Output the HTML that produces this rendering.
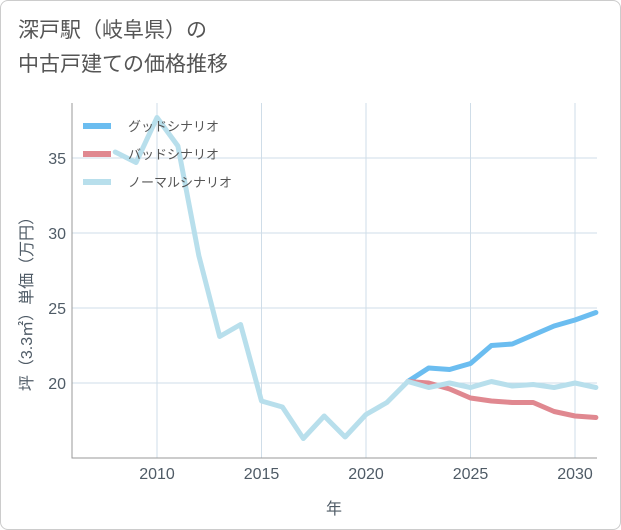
<!DOCTYPE html>
<html><head><meta charset="utf-8"><style>
body{margin:0;background:#fff;font-family:"Liberation Sans","Noto Sans CJK JP",sans-serif;}
.frame{position:absolute;left:0;top:0;width:619px;height:528px;border:1px solid #ccc;border-radius:8px;background:#fff;}
.title{position:absolute;left:18px;top:14px;font-size:21px;line-height:34px;color:#555;}
</style></head><body>
<div class="frame"></div>
<div class="title">深戸駅（岐阜県）の<br>中古戸建ての価格推移</div>
<svg id="chart" width="621" height="530" style="position:absolute;left:0;top:0"></svg>
<script>
const years=[2008,2009,2010,2011,2012,2013,2014,2015,2016,2017,2018,2019,2020,2021,2022,2023,2024,2025,2026,2027,2028,2029,2030,2031];
const normal=[35.4,34.7,37.7,35.8,28.5,23.1,23.9,18.8,18.4,16.3,17.8,16.4,17.9,18.7,20.1,19.7,20.0,19.7,20.1,19.8,19.9,19.7,20.0,19.7];
const fyears=[2022,2023,2024,2025,2026,2027,2028,2029,2030,2031];
const good=[20.1,21.0,20.9,21.3,22.5,22.6,23.2,23.8,24.2,24.7];
const bad=[20.1,20.0,19.6,19.0,18.8,18.7,18.7,18.1,17.8,17.7];
const xTicks=[2010,2015,2020,2025,2030];
const yTicks=[20,25,30,35];
const X0=72,X1=597,Y0=103,Y1=458;
const x=v=>157+(v-2010)*20.9;
const y=v=>383-(v-20)*15;
const svg=document.getElementById('chart');
const NS='http://www.w3.org/2000/svg';
function mk(t,a){const e=document.createElementNS(NS,t);for(const k in a)e.setAttribute(k,a[k]);svg.appendChild(e);return e;}
xTicks.forEach(t=>{const l=mk('line',{x1:x(t),x2:x(t),y1:Y0,y2:Y1,stroke:'#cfdde8','stroke-width':1});


const tx=mk('text',{x:x(t),y:479,'text-anchor':'middle','font-size':16,fill:'#4f5b66'});tx.textContent=t;

});
yTicks.forEach(t=>{const l=mk('line',{x1:X0,x2:X1,y1:y(t),y2:y(t),stroke:'#cfdde8','stroke-width':1});


const tx=mk('text',{x:66,y:y(t)+6,'text-anchor':'end','font-size':16,fill:'#4f5b66'});tx.textContent=t;

});
const ax=mk('path',{d:`M${X0} ${Y0}V${Y1}H${X1}`,fill:'none',stroke:'#999','stroke-width':1});


function line(xs,ys,c,n){const p=mk('polyline',{points:xs.map((v,i)=>x(v)+','+y(ys[i])).join(' '),fill:'none',stroke:c,'stroke-width':5,'stroke-linejoin':'round','stroke-linecap':'round'});

}
line(fyears,good,'#6bbdf0','good-scenario-line');
line(fyears,bad,'#e08890','bad-scenario-line');
line(years,normal,'#b8dfec','normal-scenario-line');
const leg=[['グッドシナリオ','#6bbdf0'],['バッドシナリオ','#e08890'],['ノーマルシナリオ','#b8dfec']];
leg.forEach((L,i)=>{const yy=126+i*28;
const r=mk('line',{x1:83,x2:111,y1:yy,y2:yy,stroke:L[1],'stroke-width':6});


const t=mk('text',{x:128,y:yy+5,'font-size':13,fill:'#555'});t.textContent=L[0];

});
const xt=mk('text',{x:334,y:514,'text-anchor':'middle','font-size':16,fill:'#4f5b66'});xt.textContent='年';


const yt=mk('text',{x:0,y:0,'text-anchor':'middle','font-size':16,fill:'#4f5b66',transform:'translate(32,300) rotate(-90)'});yt.textContent='坪（3.3㎡）単価（万円）';


</script>
</body></html>
